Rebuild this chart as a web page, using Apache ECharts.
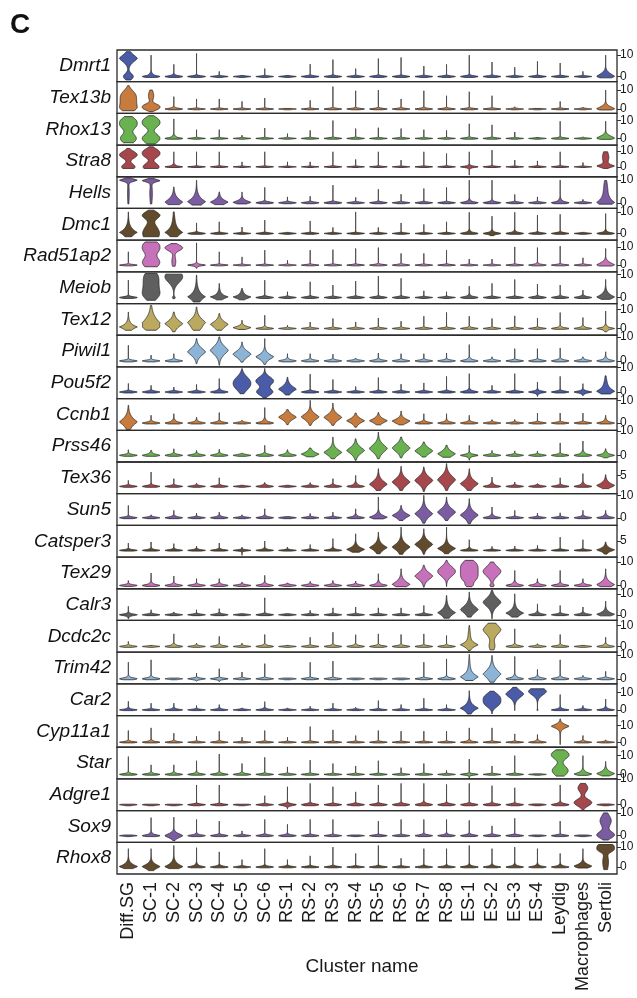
<!DOCTYPE html>
<html>
<head>
<meta charset="utf-8">
<script src="https://cdn.jsdelivr.net/npm/echarts@6/dist/echarts.min.js"></script>
<style>
  html, body { margin: 0; padding: 0; background: #fff; }
  #chart { width: 637px; height: 998px; }
</style>
</head>
<body>
<div id="chart"></div>
<script>
const clusters = ['Diff.SG', 'SC-1', 'SC-2', 'SC-3', 'SC-4', 'SC-5', 'SC-6',
  'RS-1', 'RS-2', 'RS-3', 'RS-4', 'RS-5', 'RS-6', 'RS-7', 'RS-8',
  'ES-1', 'ES-2', 'ES-3', 'ES-4', 'Leydig', 'Macrophages', 'Sertoli']

const genes = ['Dmrt1', 'Tex13b', 'Rhox13', 'Stra8', 'Hells', 'Dmc1', 'Rad51ap2', 'Meiob', 'Tex12',
  'Piwil1', 'Pou5f2', 'Ccnb1', 'Prss46', 'Tex36', 'Sun5', 'Catsper3', 'Tex29', 'Calr3', 'Dcdc2c',
  'Trim42', 'Car2', 'Cyp11a1', 'Star', 'Adgre1', 'Sox9', 'Rhox8']

const palette = ['#4a5ba8', '#c77c3e', '#6ab150', '#a5474b', '#7b5ba2', '#624a2c', '#c771ba', '#5f5f5f', '#baa95e', '#8bb4d6']

// y range of every row, and the upper tick shown on the right
const rowMin = [-2.4, -2.3, -3.7, -6.2, -2.5, -3.1, -3.7, -2.6, -3.5, -2.5, -2.7, -3.2, -2.75,
  -3.3, -3.4, -3.6, -1.4, -2.7, -2.7, -2.1, -3.2, -3, -2.4, -2.3, -2.9, -3.5]
const rowMax = [12.4, 14.4, 14, 13.6, 11.5, 11.6, 13.7, 11.1, 13, 10.7, 10.25, 10.75, 10.3,
  11.05, 10.75, 13.4, 12.1, 12.4, 12.4, 11.1, 14.8, 16, 14.5, 10.05, 11, 12.4]
const rowTick = [10, 10, 10, 10, 10, 10, 10, 10, 10, 10, 10, 10, 10,
  5, 10, 5, 10, 10, 10, 10, 10, 10, 10, 10, 10, 10]

// one entry per cluster:
//   [top, foot] or [top, foot, low]          -> mostly zeros, thin tail up to top
//   [top, low, mean, spread, zeroPart, zeroSpread, sharpness, zeroCenter] -> expressed body
const dmrt1 = [[11.6, -1.6, 8.5, 2.5, 0.55, 1.4, 1.5], [10, 1.3], [5.7, 0.8], [10.8, 0.5], [2.4, 0.3], [0.5, 0.3], [3.7, 0.3],
  [0.5, 0.3], [5.8, 0.5], [7.9, 0.5], [3.7, 0.4], [8.4, 0.5], [8.9, 0.5], [4.9, 0.4], [5.7, 0.4],
  [10, 0.6], [6.8, 0.5], [4.4, 0.3], [7.1, 0.4], [6.3, 0.4], [2.4, 0.3], [10, -0.6, 0.3, 1.8, 0.2]]
const tex13b = [[12.3, -0.9, 5, 5.5, 0.5, 1.5, 3], [10, -1.4, 1, 2, 0.3, 2.5, 2.5, 7], [6.5, 0.8], [5.3, 0.3], [5.3, 0.3], [4, 0.3], [5.8, 0.3],
  [0.3, 0.3], [4.6, 0.3], [11.8, 0.5], [9.6, 0.5], [10, 0.5], [5.3, 0.5], [9.6, 0.6], [7, 0.5],
  [9.1, 0.5], [7, 0.4], [1.2, 0.3], [0.3, 0.3], [4, 0.3], [1, 0.3], [10, -0.5, 0.3, 1.6, 0.2]]
const rhox13 = [[12.2, -2.4, 8.5, 4, 0.9, 2.5, 2.5], [12.7, -3.1, 9, 3.5, 1, 2.5, 2.5], [10.9, 1.3], [4.9, 0.3], [4.9, 0.3], [1.8, 0.3], [5.8, 0.3],
  [2.7, 0.3], [4.5, 0.4], [10, 0.5], [5.5, 0.5], [6, 0.3], [5.5, 0.4], [4.9, 0.3], [4.5, 0.3],
  [8.2, 0.6], [7.6, 0.5], [3.6, 0.3], [0.5, 0.3], [9.6, 0.6], [0.8, 0.3], [9.6, -0.5, 0.5, 1.6, 0.3]]
const stra8 = [[11.5, -1, 7.5, 3, 0.75, 1.8, 2], [12.5, -1, 8.5, 3.5, 0.9, 2.2, 2.5], [9.4, 1.2], [9.4, 0.4], [9.4, 0.5], [3.1, 0.3], [9.4, 0.4],
  [3.1, 0.3], [3.1, 0.3], [9.4, 0.5], [4.6, 0.3], [9.4, 0.4], [4.2, 0.3], [9.4, 0.4], [8.3, 0.5],
  [9.4, 0.9, -5.2], [10.4, 0.5], [4.2, 0.3], [3.7, 0.5], [9.4, 0.6], [2.7, 0.3], [9.4, -1, 0.5, 1.2, 0.4, 3.5, 1.5, 6]]
const hells = [[11, -0.5, 10, 0.8, 0.1, 4, 1.5, 4], [10.7, -0.5, 9.8, 0.8, 0.15, 4, 1.5, 4], [7, -0.8, 0.3, 2.2, 0, 0.35, 1.2],
  [10, -1, 0.5, 2.2, 0, 0.35, 1.1], [4.8, -0.8, 0.3, 1.5, 0, 0.35, 1.2], [4.8, -0.5, 0.3, 1.1, 0.2, 0.35, 1.3], [6.8, 0.7],
  [2.6, 0.5], [2.9, 0.5], [7.8, 0.6], [2.4, 0.4], [6, 0.5], [3.8, 0.4], [6.3, 0.4], [6.8, 0.4],
  [10, 1], [10, 0.8], [3.7, 0.4], [2.6, 0.4], [10, 1.3], [1.5, 0.4], [9.8, -0.6, 0.2, 2.5, 0.15, 3, 1, 7]]
const dmc1 = [[10, -1.5, 0.5, 2, 0.05, 3, 1], [10.8, -1.5, 8.5, 2.2, 1, 3.5, 2], [10, -1.5, 0.5, 2.2, 0.1, 4, 1.1, 5],
  [4.9, 0.6], [5.4, 0.4], [3, 0.3], [6.2, 0.4], [0.5, 0.3], [5.8, 0.3], [2.8, 0.3], [10, 0.3], [2.8, 0.3],
  [4.9, 0.3], [4.2, 0.3], [5.4, 0.3], [9.8, 1], [8, 1, -1], [9.8, 0.9], [8.5, 0.5], [8.9, 0.6], [0.5, 0.3], [9.2, 1]]
const rad51ap2 = [[7.3, 0.5], [12.7, -0.9, 10, 4, 1, 3, 2.5, 1.5], [11.8, -0.6, 9.5, 2.2, 0.22, 3, 2, 2],
  [12.2, 0.8, -1.8], [7.3, 0.4], [4.5, 0.3], [8.2, 0.3], [2.7, 0.3], [8.2, 0.4], [8.5, 0.4], [9.1, 0.4],
  [9.6, 0.6], [6.4, 0.6], [6.4, 0.4], [8.2, 0.4], [3.3, 0.3], [3.3, 0.3], [10, 0.4], [9.6, 0.8], [10.4, 0.5],
  [4, 0.5], [9.1, -0.5, 0.3, 1.8, 0.2]]
const meiob = [[7.5, 0.6], [10.4, -1.2, 6, 6, 0.5, 2, 4], [10.1, -0.5, 9, 3.5, 0.15, 0.5, 2], [9.7, -1.9, 0.3, 2.2, 0, 0.35, 1],
  [6.1, -1, 0.3, 1.2, 0.1, 0.35, 1], [3.9, -1, 0.3, 1.2, 0.2, 0.35, 1], [7.5, 0.6], [2.5, 0.4], [6.8, 0.5],
  [5.4, 0.4], [7.1, 0.5], [9.3, 0.5], [8.3, 0.5], [2.9, 0.3], [2.5, 0.3], [4.9, 0.9], [6.1, 0.4], [7.8, 0.4],
  [5.8, 0.6], [5.4, 0.6], [3.2, 0.8], [7.8, -0.8, 0.3, 1.6, 0.1, 0.35, 1.2]]
const tex12 = [[8.6, -0.9, 0.8, 1.6, 0, 0.35, 1], [12, -0.9, 3, 4, 0.4, 1.2, 1.2, 0.5], [8.6, -1.7, 2.5, 2.5, 0, 0.35, 1.3],
  [11.2, -0.9, 3.2, 3, 0.2, 1.5, 1.3], [7.8, -0.9, 2.2, 2.2, 0.1, 1, 1.3], [4.3, -0.5, 0.5, 1, 0.1, 0.35, 1.3],
  [6.9, 0.8], [1.7, 0.4], [3.4, 0.5], [5.2, 0.5], [3.4, 0.5], [5.5, 0.5], [3.8, 0.5], [6.4, 0.5], [8.4, 0.5],
  [6.4, 0.7], [5.2, 0.5], [6.6, 0.5], [5.5, 0.5], [8.3, 0.9], [5.7, 1], [9.1, 1.3, -1.7]]
const piwil1 = [[6.5, 0.5], [2.4, 0.5], [3, 0.7], [9.3, -1.1, 3.8, 2.3, 0, 0.35, 1.5], [10, -1.8, 4.4, 2.6, 0, 0.35, 1.5],
  [7.9, -0.5, 2.8, 2, 0, 0.35, 1.5], [9.3, -1.4, 1.7, 1.6, 0, 0.35, 1.3], [3, 0.8], [3, 0.7], [2.8, 0.6], [1.2, 0.5],
  [3.3, 0.7], [3, 0.6], [3, 0.6], [3.3, 0.6], [6.8, 1], [1.7, 0.6], [5.1, 0.5], [5.1, 0.6], [5.4, 0.8], [1.7, 0.7], [3.8, 1.1]]
const pou5f2 = [[3.5, 0.5], [2.7, 0.6], [2, 0.5], [3.1, 0.5], [5.5, 0.9], [9.5, -0.7, 3.5, 3.5, 0, 0.35, 2.2],
  [9.6, -2.5, 4.5, 2.3, 0.9, 1.3, 2], [6, -1.2, 1.2, 1.8, 0, 0.35, 1.3], [7.3, 0.6], [5.1, 0.5], [2.2, 0.4],
  [5.9, 0.5], [3.2, 0.5], [3.7, 0.5], [6.4, 0.5], [7.5, 0.9], [2.7, 0.5], [7.5, 0.5], [4.1, 0.7, -1.8], [6.4, 0.6],
  [3.4, 0.8, -1.4], [6.6, -0.8, 0.3, 1.5, 0.15, 2.5, 1.2, 3]]
const ccnb1 = [[7.8, -2.9, 0.5, 2.4, 0, 0.35, 1.2], [3.4, 0.8], [4.1, 1.2], [2.6, 0.9], [4.6, 0.8], [1.2, 0.5], [6.8, 1.3],
  [5.9, -0.7, 2.6, 1.7, 0, 0.35, 1.4], [10, -1, 2.7, 2, 0, 0.35, 1.4], [8.8, -1, 2.5, 2, 0, 0.35, 1.4],
  [4.4, -1.8, 1, 1.5, 0, 0.35, 1.3], [4.6, -0.8, 1, 1.4, 0, 0.35, 1.3], [5.3, -0.8, 0.9, 1.3, 0.1, 0.35, 1.3],
  [4.1, 0.9], [4.1, 0.9], [3.4, 0.8], [1.5, 0.5], [1.5, 0.4], [4.4, 0.5], [4.4, 0.5], [4.4, 0.6], [3.4, 1.2]]
const prss46 = [[2.3, 0.6], [2.1, 1], [2.7, 0.7], [2, 0.7], [2.5, 0.8], [0.8, 0.5], [4.1, 0.8], [2.3, 1],
  [3, -0.6, 0.5, 1.2, 0, 0.35, 1.2], [7.5, -1.4, 1.2, 1.8, 0, 0.35, 1.3], [6.8, -2, 2, 2, 0, 0.35, 1.4],
  [9.6, -1.4, 2.8, 2.4, 0, 0.35, 1.5], [7.5, -1, 3, 2.2, 0, 0.35, 1.5], [5.5, -0.7, 1.8, 1.8, 0, 0.35, 1.5],
  [4.1, -0.8, 0.6, 1.6, 0, 0.35, 1.3], [4.1, 0.8, -2], [2, 0.6], [1.8, 0.5], [1.8, 0.5], [5.1, 0.6], [5.9, 1.2], [2.7, 1.2, -1]]
const tex36 = [[2.7, 0.6], [6.5, 0.8], [3.5, 0.6], [1.5, 0.5], [3.9, 0.6], [0.5, 0.3], [1.7, 0.8], [0.5, 0.3], [1.7, 0.6],
  [3.5, 0.8], [5, 1.2], [8, -1.8, 1, 2.2, 0, 0.35, 1.3], [9.1, -1.8, 2, 2.4, 0, 0.35, 1.4], [8.8, -2.3, 2.7, 2.5, 0, 0.35, 1.5],
  [10.3, -1.8, 3, 2.8, 0, 0.35, 1.5], [8, -1.8, 1.2, 2.2, 0, 0.35, 1.3], [4.2, 1.2], [2, 0.6], [1.2, 0.6], [3.9, 0.7],
  [5.8, 1.2], [5.3, -1, 0.5, 1.5, 0.1, 0.35, 1.2]]
const sun5 = [[5.5, 0.6], [1.3, 0.5], [3.3, 0.8], [2.1, 0.5], [2.5, 0.8], [1.3, 0.4], [4, 0.8], [0.5, 0.5], [1.9, 0.5],
  [2.5, 0.5], [4, 1], [9.3, -0.5, 0.3, 1.2, 0.1, 0.35, 1.2], [5.5, -1.2, 1, 1.6, 0, 0.35, 1.3], [10, -2.4, 1.8, 2.4, 0, 0.35, 1.3],
  [9.3, -1.2, 2.5, 2.4, 0, 0.35, 1.5], [8.5, -2.7, 1.2, 2.2, 0, 0.35, 1.3], [4.8, 1.1], [3.3, 0.5], [2.1, 0.5], [2.2, 0.5],
  [3.3, 0.8], [3.3, 1.1]]
const catsper3 = [[3.9, 0.7], [4.5, 0.8], [3.6, 0.8], [2.3, 0.7], [3.9, 0.8], [1.8, 0.5, -2.7], [5, 0.9], [1.8, 0.5], [3.1, 0.6],
  [6.3, 1], [8.9, -1, 0.5, 1.6, 0, 0.35, 1.2], [9.8, -1.8, 1.5, 2.2, 0, 0.35, 1.2], [12.5, -2.1, 1.8, 2.6, 0, 0.35, 1.3],
  [11.6, -2.1, 3.2, 2.6, 0, 0.35, 1.4], [12.5, -1.8, 1, 2, 0, 0.35, 1.2], [5.7, 1], [2.1, 0.5], [2.3, 0.5], [2.7, 0.5],
  [7.1, 0.6], [5.7, 0.6], [4.5, -2, 0.3, 1.4, 0.1, 0.35, 1.2]]
const tex29 = [[2.1, 0.6], [5.3, 1], [4, 0.8], [2.9, 0.6], [2.9, 0.8], [1.4, 0.5], [4.3, 0.9], [1.1, 0.5], [1.7, 0.6],
  [2.1, 0.6], [1.9, 0.6], [5, 1.2], [7.1, -0.5, 0.5, 1.8, 0, 0.35, 1.2], [8.6, -0.7, 4, 2.2, 0, 0.35, 1.5],
  [10.7, -0.5, 6, 2.8, 0, 0.35, 2], [10.7, -0.5, 6, 5, 0.3, 0.8, 4], [10, -0.5, 6, 3, 0.2, 0.6, 1.8],
  [6.4, 1.2], [2.9, 0.9], [6.4, 0.8], [2.9, 0.8], [7.1, -0.5, 0.4, 1.6, 0.05, 0.35, 1.2]]
const calr3 = [[4, 0.8, -1.9], [2.4, 0.6], [1.3, 0.5], [2.4, 0.5], [2.9, 0.7], [0.5, 0.4], [8.1, 0.6], [0.5, 0.4], [2.1, 0.5],
  [3.3, 0.5], [3.7, 0.5], [3.3, 0.5], [3.3, 0.5], [4.4, 0.7], [9.2, -1.6, 1, 2.2, 0, 0.35, 1.1],
  [10.8, -1.1, 2.5, 2.6, 0, 0.35, 1.4], [11.6, -1.9, 6, 3, 0, 0.35, 1.6], [10, -1.1, 0.8, 1.8, 0, 0.35, 1.1],
  [5.2, 1], [4.4, 0.7], [3.7, 0.9], [6.5, -0.5, 0.3, 1.3, 0.1, 0.35, 1.2]]
const dcdc2c = [[2.4, 0.6], [0.5, 0.3], [6, 1], [1.6, 0.5], [4.8, 0.8], [1.6, 0.4], [5.7, 0.8], [0.5, 0.3], [4.4, 0.5],
  [6.8, 0.7], [5.6, 0.8], [6, 0.7], [5.7, 0.7], [6, 0.6], [5.2, 0.6], [10, -1.9, 0.8, 1.5, 0.12, 3, 1.2, 5],
  [11.1, -1.6, 8, 3.5, 0.3, 2, 1.6], [8.4, 0.8], [1.3, 0.5], [5.7, 0.7], [0.5, 0.4], [4.4, 1]]
const trim42 = [[6.9, 0.8], [7.9, 0.8], [0.3, 0.3], [2.4, 0.4, -1], [4.2, 0.4, -1.2], [2.8, 0.3], [6.3, 0.4], [0.3, 0.3], [6.9, 0.4],
  [7.4, 0.4], [0.3, 0.3], [0.3, 0.3], [0.3, 0.3], [6.9, 0.4], [8.3, 0.7], [10.1, -0.7, 0.8, 1.7, 0.08, 3, 1.2, 5],
  [9.7, -1.4, 2, 2.6, 0, 0.35, 1.3], [9.3, 1.1], [3.9, 0.8], [7.9, 0.8], [1.4, 0.4], [3.1, 0.5]]
const car2 = [[4.9, 0.9], [3.8, 0.6], [3.8, 0.9], [2.5, 0.6], [3, 0.8], [1.1, 0.5], [4.7, 0.9], [1.1, 0.4], [2.1, 0.5],
  [3.8, 0.6], [1.5, 0.5], [5.3, 0.6], [3, 0.6], [6.6, 0.6], [3, 0.6], [10.9, -2.3, 1, 2.2, 0, 0.35, 1.1],
  [10.6, -2.3, 5.5, 4.5, 0, 0.35, 2.8], [12.8, -0.4, 9, 3, 0, 0.35, 1.6], [12, -0.4, 10.5, 3, 0.05, 0.35, 1.8],
  [8.7, 1], [2.5, 0.8], [6.2, 1.1]]
const cyp11a1 = [[7, 0.8], [8.6, 1], [5.4, 0.8], [3.6, 0.5], [6.6, 0.8], [3, 0.4], [7, 0.6], [3, 0.4], [9.4, 0.6],
  [7.4, 0.5], [4, 0.5], [7, 0.6], [6.6, 0.5], [6.6, 0.5], [6.6, 0.5], [8.6, 1], [8.6, 0.6], [5, 0.5], [4.6, 1],
  [14, -1.4, 9.6, 1.6, 0.03, 3, 1.4, 4], [4, 0.9], [1.4, 0.5]]
const star = [[9.5, 0.8], [5.1, 0.8], [5.1, 0.9], [7.3, 0.9], [10.9, 0.9], [5.8, 0.9], [9.1, 0.6], [4, 0.5], [7.6, 0.5],
  [5.8, 0.4], [4.5, 0.4], [7.3, 0.4], [3.6, 0.4], [5.8, 0.5], [2.2, 0.4], [8.2, 0.6, -2.2], [4.5, 0.4], [10, 0.5], [0.3, 0.3],
  [13.1, -0.9, 10.5, 3, 0.9, 2.5, 2.2, 2], [10, -0.5, 0.3, 1.2, 0.2, 0.35, 1.2], [6.9, -0.8, 0.5, 1.5, 0.1, 0.35, 1.2]]
const adgre1 = [[0.2, 0.3], [0.2, 0.3], [0.2, 0.3], [7.7, 0.3], [7.7, 0.3], [0.2, 0.3], [3.5, 0.3], [7, 0.6, -1.7], [8.3, 0.6],
  [7, 0.4], [5, 0.5], [7.7, 0.5], [8.3, 0.6], [8.3, 0.8], [7.9, 0.6], [8.3, 0.6], [7.4, 0.6], [6.6, 0.5], [0.3, 0.3],
  [7.7, 0.8], [8.3, -2.5, 0.8, 1.8, 0.55, 1.6, 2, 6.5], [0.3, 0.3]]
const sox9 = [[0.3, 0.3], [7.9, 1], [8.1, -2.1, 0, 1.3, 0, 0.35, 1.5], [7.1, 0.7], [6.4, 0.6], [2.1, 0.4], [7.1, 0.6], [5, 0.6], [7.1, 0.5],
  [7.1, 0.4], [0.3, 0.3], [6.4, 0.4], [7.1, 0.4], [7.1, 0.7], [7.1, 0.7], [6.7, 0.7], [4.3, 0.6], [7.6, 0.5], [0.3, 0.3],
  [6.4, 0.5], [0.3, 0.3], [10, -1.9, 0.3, 2, 0.65, 2.5, 2, 6.5]]
const rhox8 = [[9.2, -0.8, 0.3, 1.6, 0.1, 0.35, 1.2], [9.2, -1.8, 0.2, 1.7, 0, 0.35, 1.3], [10.8, -0.8, 0.3, 1.8, 0.1, 0.35, 1.2],
  [9.7, 1.2], [7.6, 0.8], [3.7, 0.5], [9.2, 0.7], [3.7, 0.6], [5.6, 0.6], [10, 0.6], [6.8, 0.5], [10.8, 0.6], [4.4, 0.5],
  [9.2, 0.7], [9.2, 0.7], [10.8, 0.9], [9.2, 0.9], [10, 1], [9.2, 1], [6.8, 1], [9.2, -0.5, 0.5, 1.4, 0.1, 0.35, 1.3],
  [11.3, -1.3, 9.8, 2.6, 0.35, 4, 3, 2.5]]

const violins = [dmrt1, tex13b, rhox13, stra8, hells, dmc1, rad51ap2, meiob, tex12, piwil1, pou5f2, ccnb1,
  prss46, tex36, sun5, catsper3, tex29, calr3, dcdc2c, trim42, car2, cyp11a1, star, adgre1, sox9, rhox8]

// layout
const plotTop = 50
const plotBottom = 874
const plotLeft = 117
const plotRight = 20
const rowH = (plotBottom - plotTop) / genes.length
const font = '"Liberation Sans", Arial, sans-serif'

// turn a short entry into the full shape description
function shape (v) {
  if (v.length <= 3) {
    return { top: v[0], lo: v.length === 3 ? v[2] : -0.4, mu: 0, s: v[1], z: 1, zs: 0.3, p: 1.5, mu2: 0 }
  }
  return {
    top: v[0], lo: v[1], mu: v[2], s: v[3], z: v[4] || 0,
    zs: v[5] || 0.35, p: v[6] || 1.5, mu2: v[7] || 0
  }
}

function halfWidth (sh, y) {
  const a = Math.exp(-Math.pow(Math.abs((y - sh.mu) / sh.s), sh.p))
  const b = sh.z * Math.exp(-0.5 * Math.pow((y - sh.mu2) / sh.zs, 2))
  return a + b
}

function makeRender (g) {
  return function (params, api) {
    const ci = api.value(0)
    const sh = shape(violins[g][ci])
    const band = api.size([1, 0])[0]
    const maxHalf = band * 0.39
    const n = 70
    const ys = []
    const ws = []
    let wMax = 0
    for (let k = 0; k <= n; k++) {
      const y = sh.lo + (sh.top - sh.lo) * k / n
      const w = halfWidth(sh, y)
      ys.push(y)
      ws.push(w)
      if (w > wMax) wMax = w
    }
    const right = []
    const left = []
    for (let k = 0; k <= n; k++) {
      const c = api.coord([ci, ys[k]])
      const hw = ws[k] / wMax * maxHalf
      right.push([c[0] + hw, c[1]])
      left.unshift([c[0] - hw, c[1]])
    }
    return {
      type: 'polygon',
      shape: { points: right.concat(left) },
      style: { fill: palette[g % palette.length], stroke: '#2a2a2a', lineWidth: 0.8 }
    }
  }
}

const grids = []
const xAxes = []
const yAxes = []
const series = []
const graphics = [{
  type: 'text', x: 10, y: 11,
  style: { text: 'C', font: 'bold 28px ' + font, fill: '#111' }
}, {
  type: 'text', x: 362, y: 967,
  style: { text: 'Cluster name', font: '19px ' + font, fill: '#1a1a1a', align: 'center', verticalAlign: 'middle' }
}]

genes.forEach((gene, g) => {
  const top = plotTop + g * rowH
  const last = g === genes.length - 1
  grids.push({
    left: plotLeft, right: plotRight, top: top, height: rowH,
    outerBoundsMode: 'none', containLabel: false,
    show: true, borderColor: '#2c2c2c', borderWidth: 1.3, backgroundColor: 'transparent'
  })
  xAxes.push({
    type: 'category', gridIndex: g, data: clusters, boundaryGap: true,
    axisLine: { show: false }, axisTick: { show: false }, splitLine: { show: false },
    axisLabel: last
      ? { show: true, rotate: 90, fontSize: 18, color: '#1a1a1a', fontFamily: font, margin: 8, interval: 0 }
      : { show: false }
  })
  yAxes.push({
    type: 'value', gridIndex: g, position: 'right',
    min: rowMin[g], max: rowMax[g],
    axisLine: { show: false }, splitLine: { show: false },
    axisTick: { show: true, length: 4, customValues: [0, rowTick[g]], lineStyle: { color: '#333' } },
    axisLabel: { customValues: [0, rowTick[g]], fontSize: 12, color: '#1a1a1a', fontFamily: font, margin: 3 }
  })
  series.push({
    type: 'custom', xAxisIndex: g, yAxisIndex: g,
    clip: true, silent: true,
    data: clusters.map((c, ci) => [ci, 0]),
    renderItem: makeRender(g)
  })
  graphics.push({
    type: 'text', x: 111, y: top + rowH / 2,
    style: { text: gene, font: 'italic 19px ' + font, fill: '#111', align: 'right', verticalAlign: 'middle' }
  })
})

const chart = echarts.init(document.getElementById('chart'), null, { renderer: 'canvas' })
chart.setOption({
  animation: false,
  backgroundColor: '#fff',
  grid: grids,
  xAxis: xAxes,
  yAxis: yAxes,
  series: series,
  graphic: graphics
})
</script>
</body>
</html>
